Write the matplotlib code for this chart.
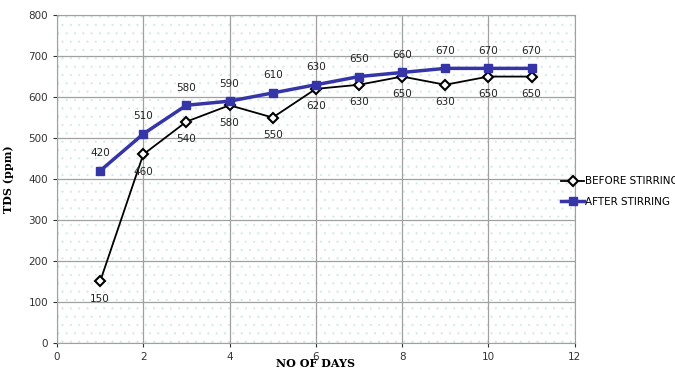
import numpy as np
import matplotlib.pyplot as plt
from matplotlib.patches import Rectangle

# Datos
days = [1, 2, 3, 4, 5, 6, 7, 8, 9, 10, 11]
before = [150, 460, 540, 580, 550, 620, 630, 650, 630, 650, 650]
after = [420, 510, 580, 590, 610, 630, 650, 660, 670, 670, 670]

plt.rcParams['hatch.linewidth'] = 0.3

fig = plt.figure(figsize=(6.75, 3.68), dpi=100)
ax = fig.add_axes([0.0844, 0.068, 0.767, 0.891])

# fondo punteado
ax.add_patch(Rectangle((0, 0), 1, 1, transform=ax.transAxes, facecolor='white',
                       edgecolor='#cfe8e8', hatch='..', linewidth=0, zorder=0))

ax.plot(days, before, color='black', linewidth=1.3, marker='D', markersize=5,
        markerfacecolor='white', markeredgecolor='black', markeredgewidth=1.5,
        label='BEFORE STIRRING', zorder=3)
ax.plot(days, after, color='#3535a8', linewidth=2.5, marker='s', markersize=6,
        label='AFTER STIRRING', zorder=4)

for x, y in zip(days, after):
    ax.annotate(str(y), (x, y), textcoords='offset points', xytext=(0, 9),
                ha='center', va='bottom', fontsize=7.5, color='#222222')
for x, y in zip(days, before):
    ax.annotate(str(y), (x, y), textcoords='offset points', xytext=(0, -9),
                ha='center', va='top', fontsize=7.5, color='#222222')

ax.set_xlim(0, 12)
ax.set_ylim(0, 800)
ax.set_xticks(range(0, 13, 2))
ax.set_yticks(range(0, 801, 100))
ax.tick_params(labelsize=7.5, colors='#333333', length=3)
ax.grid(True, color='#a0a0a0', linewidth=0.9)
ax.set_axisbelow(True)
for s in ax.spines.values():
    s.set_color('#a0a0a0')

ax.set_xlabel('NO OF DAYS', family='serif', fontweight='bold', fontsize=8, labelpad=-3)
ax.set_ylabel('TDS (ppm)', family='serif', fontweight='bold', fontsize=8, labelpad=10)

fig.legend(loc='center left', bbox_to_anchor=(0.825, 0.48), frameon=False,
           fontsize=7.5, handlelength=2.2, handletextpad=0.1, labelspacing=1.0,
           borderaxespad=0)

fig.savefig('out.png', dpi=100)
